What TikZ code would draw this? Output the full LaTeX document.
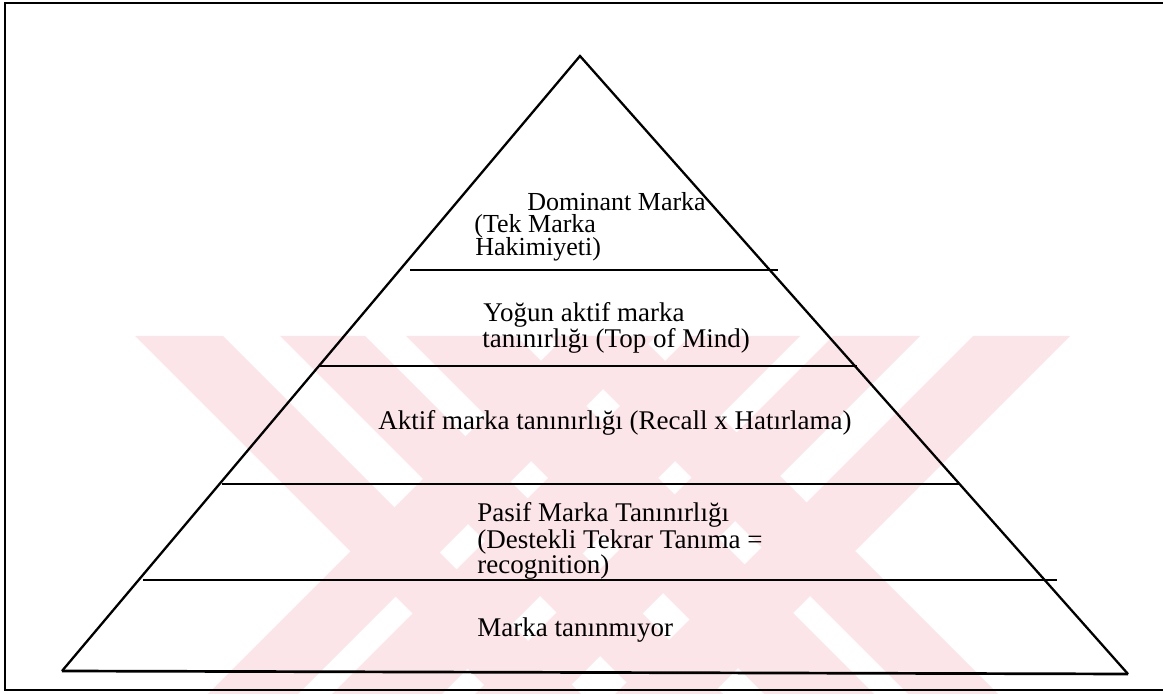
\documentclass[tikz,border=0pt]{standalone}
\usepackage{fontspec}
\setmainfont{Liberation Serif}
\definecolor{wmpink}{RGB}{252,229,233}
\begin{document}
\begin{tikzpicture}[x=0.5pt,y=-0.5pt,
  wm/.style={fill=wmpink,draw=none},
  frame/.style={line width=1.1pt,black},
  edge/.style={line width=1.15pt,black,line join=miter},
  tier/.style={line width=1.35pt,black},
  lbl/.style={anchor=base west,inner sep=0pt,font=\fontsize{13.5}{13}\selectfont},
  toplbl/.style={lbl,font=\fontsize{13}{12}\selectfont},
]
\useasboundingbox (0,0) rectangle (1163,694);

% faint striped emblem in the background
\foreach \a/\b in {135/223,280/365,406/516,550/640}
  \fill[wm] (\a,336) -- (\b,336) -- ({\b+358},694) -- ({\a+358},694) -- cycle;
\foreach \a/\b in {566/656,690/800,833/920,973/1070}
  \fill[wm] (\a,336) -- (\b,336) -- ({\b-358},694) -- ({\a-358},694) -- cycle;

% outer frame (open on the right)
\coordinate (fTR) at (1163,3);
\coordinate (fTL) at (5,3);
\coordinate (fBL) at (5,690);
\coordinate (fBR) at (1163,690);
\draw[frame] (fTR) -- (fTL) -- (fBL) -- (fBR);

% pyramid outline
\coordinate (apex) at (580,56);
\coordinate (bl) at (62,671);
\coordinate (br) at (1128,674);
\draw[edge] (bl) -- (apex) -- (br);
\draw[tier] (bl) -- (br);

% tier separators
\coordinate (t1l) at (410,270);  \coordinate (t1r) at (778,270);
\coordinate (t2l) at (318,366);  \coordinate (t2r) at (857,366);
\coordinate (t3l) at (222,484);  \coordinate (t3r) at (960,484);
\coordinate (t4l) at (143,580);  \coordinate (t4r) at (1057,580);
\draw[tier] (t1l) -- (t1r);
\draw[tier] (t2l) -- (t2r);
\draw[tier] (t3l) -- (t3r);
\draw[tier] (t4l) -- (t4r);

% tier labels
\node[toplbl] (dom1) at (527,211) {Dominant Marka};
\node[toplbl] (dom2) at (474,233) {(Tek Marka};
\node[toplbl] (dom3) at (475,256) {Hakimiyeti)};

\node[lbl] (yog1) at (483,322) {Yoğun aktif marka};
\node[lbl] (yog2) at (482,348) {tanınırlığı (Top of Mind)};

\node[lbl] (akt) at (378,430) {Aktif marka tanınırlığı (Recall x Hatırlama)};

\node[lbl] (pas1) at (477,522) {Pasif Marka Tanınırlığı};
\node[lbl] (pas2) at (477,549) {(Destekli Tekrar Tanıma =};
\node[lbl] (pas3) at (477,574) {recognition)};

\node[lbl] (yok) at (477,637) {Marka tanınmıyor};
\end{tikzpicture}
\end{document}
